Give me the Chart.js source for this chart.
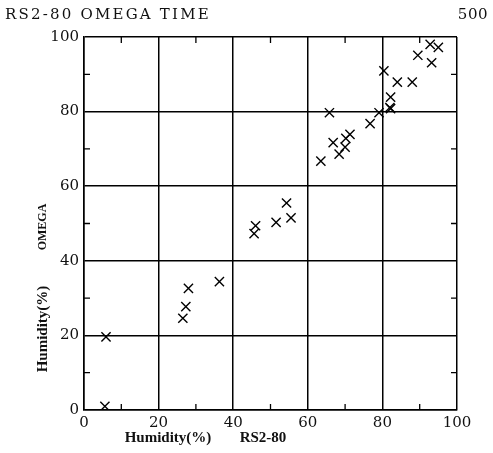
<!DOCTYPE html>
<html>
<head>
<meta charset="utf-8">
<script src="https://cdn.jsdelivr.net/npm/chart.js@4"></script>
<style>
  html, body { margin: 0; padding: 0; background: #fff; }
  #wrap { width: 493px; height: 453px; }
</style>
</head>
<body>
<div id="wrap"><canvas id="omega"></canvas></div>
<script>
// humidity readings: RS2-80 (x) vs OMEGA (y)
const rs280 = [5.6, 5.9, 26.5, 27.3, 28, 36.3, 45.6, 46, 51.5, 55.5, 54.3,
  63.5, 65.8, 66.8, 68.4, 70, 70.2, 71.3, 76.7, 79.1, 82, 82.2, 82.2,
  80.4, 84, 88, 89.5, 93.2, 92.8, 95];
const omega = [1, 19.6, 24.6, 27.7, 32.6, 34.4, 47.3, 49.4, 50.3, 51.5, 55.5,
  66.7, 79.7, 71.7, 68.6, 70.5, 72.8, 73.9, 76.8, 79.7, 81.1, 83.9, 80.8,
  90.9, 87.9, 87.9, 95.1, 93.1, 98, 97.2];
const majorTicks = [0, 20, 40, 60, 80, 100];
const minorTicks = [10, 30, 50, 70, 90];

const points = rs280.map((x, i) => ({ x: x, y: omega[i] }));
const tickFont = { family: 'DejaVu Serif', size: 15 };

// inward minor ticks and the text around the plot
const decorations = {
  id: 'decorations',
  afterDraw(chart) {
    const c = chart.ctx;
    const a = chart.chartArea;
    const xs = chart.scales.x, ys = chart.scales.y;
    c.save();
    c.strokeStyle = '#000';
    c.lineWidth = 1.3;
    c.beginPath();
    minorTicks.forEach(v => {
      const px = xs.getPixelForValue(v);
      c.moveTo(px, a.bottom); c.lineTo(px, a.bottom - 6);
      c.moveTo(px, a.top); c.lineTo(px, a.top + 6);
      const py = ys.getPixelForValue(v);
      c.moveTo(a.left, py); c.lineTo(a.left + 6, py);
      c.moveTo(a.right, py); c.lineTo(a.right - 6, py);
    });
    c.stroke();

    c.fillStyle = '#111';
    c.textBaseline = 'middle';
    c.font = '15px "DejaVu Serif"';
    c.letterSpacing = '2.2px';
    c.textAlign = 'left';
    c.fillText('RS2-80 OMEGA TIME', 5, 15);
    c.letterSpacing = '0.5px';
    c.textAlign = 'right';
    c.fillText('500', 488, 15);

    c.letterSpacing = '0px';
    c.font = 'bold 15px "Liberation Serif"';
    c.textAlign = 'center';
    c.fillText('Humidity(%)', 168, 438);
    c.fillText('RS2-80', 263, 438);

    c.translate(43, 0);
    c.rotate(-Math.PI / 2);
    c.fillText('Humidity(%)', -329, 0);
    c.font = 'bold 12px "Liberation Serif"';
    c.fillText('OMEGA', -227, 0);
    c.restore();
  }
};

new Chart(document.getElementById('omega'), {
  type: 'scatter',
  data: {
    datasets: [{
      label: 'OMEGA vs RS2-80',
      data: points,
      pointStyle: 'crossRot',
      pointRadius: 6.5,
      pointHoverRadius: 6.5,
      borderColor: '#000',
      borderWidth: 1.4,
      backgroundColor: '#000'
    }]
  },
  options: {
    responsive: true,
    maintainAspectRatio: false,
    animation: false,
    layout: { padding: { top: 37, right: 36, left: 0, bottom: 0 } },
    plugins: {
      legend: { display: false },
      tooltip: { enabled: false }
    },
    scales: {
      x: {
        type: 'linear',
        min: 0, max: 100,
        afterFit(s) { s.height = 43; },
        afterBuildTicks(s) { s.ticks = majorTicks.map(v => ({ value: v })); },
        border: { color: '#000', width: 1.5 },
        grid: { color: '#000', lineWidth: 1.5, drawTicks: false },
        ticks: { color: '#111', font: tickFont, padding: 4, maxRotation: 0 }
      },
      y: {
        type: 'linear',
        min: 0, max: 100,
        afterFit(s) { s.width = 84; },
        afterBuildTicks(s) { s.ticks = majorTicks.map(v => ({ value: v })); },
        border: { color: '#000', width: 1.5 },
        grid: { color: '#000', lineWidth: 1.5, drawTicks: false },
        ticks: { color: '#111', font: tickFont, padding: 5 }
      }
    }
  },
  plugins: [decorations]
});
</script>
</body>
</html>
